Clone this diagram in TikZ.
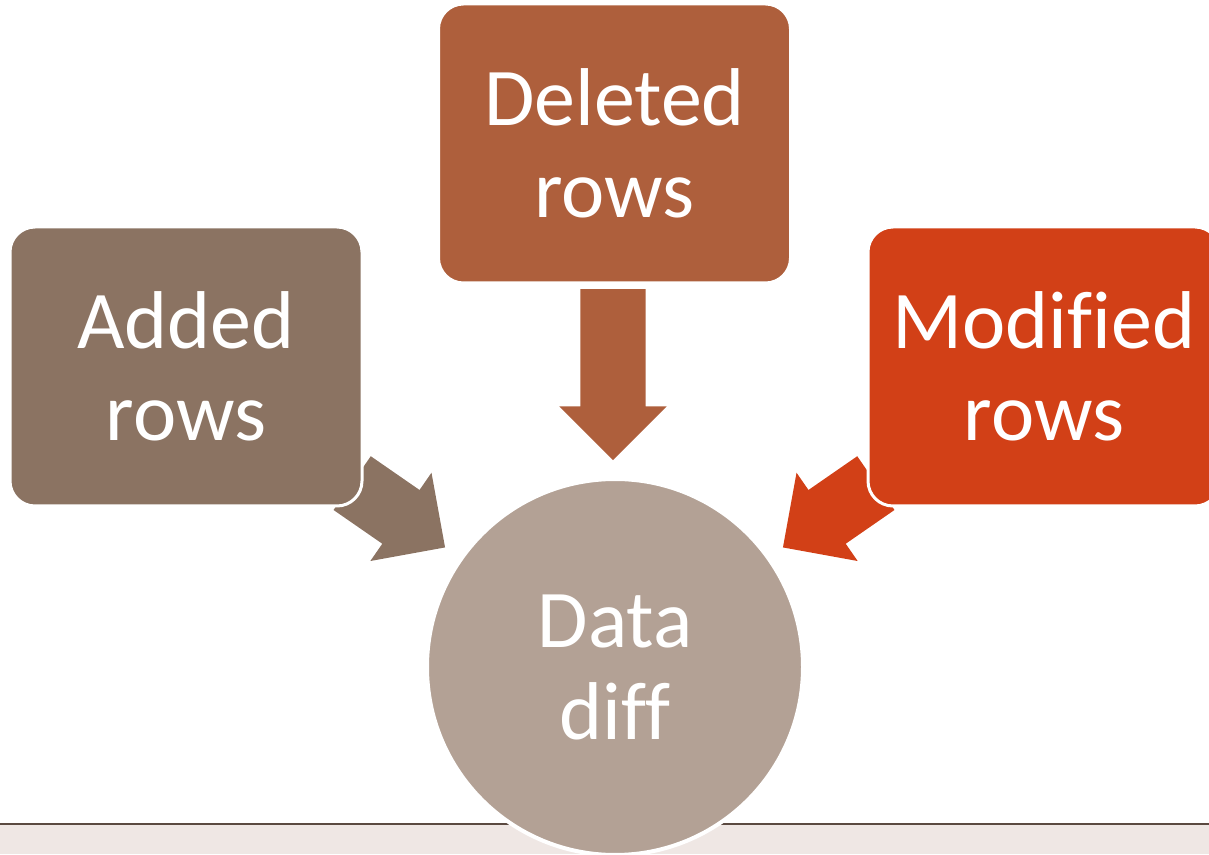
\documentclass[tikz,border=0pt]{standalone}
\usepackage{fontspec}
\setmainfont[Ligatures=NoCommon]{Carlito}
\usetikzlibrary{shapes.arrows}
\definecolor{addedcol}{HTML}{8B7362}
\definecolor{deletedcol}{HTML}{AE5F3C}
\definecolor{modifiedcol}{HTML}{D24017}
\definecolor{diffcol}{HTML}{B3A195}
\definecolor{stripcol}{HTML}{EFE7E4}
\definecolor{linecol}{HTML}{5B4A41}
\newcommand{\bw}{352pt}
\newcommand{\bh}{279pt}

\begin{document}
\begin{tikzpicture}[x=1pt,y=1pt,
    box/.style={draw=white, line width=3pt, rectangle, rounded corners=25pt, minimum width=\bw, minimum height=\bh, inner sep=0pt, text=white, align=center, font=\fontsize{82}{92}\selectfont},
    blockarrow/.style={single arrow, single arrow head extend=21pt, single arrow head indent=0pt, minimum width=107pt, inner xsep=0pt, inner ysep=32.5pt, anchor=tail}]
    \useasboundingbox (0,0) rectangle (1209,854);

    % Bottom strip
    \fill[stripcol] (0,0) rectangle (1209,29);
    \draw[linecol, line width=2pt] (0,30) -- (1209,30);

    % Arrows
    \node[blockarrow, fill=addedcol, minimum height=113pt, rotate=-34.7] (arrow-added) at (352,371) {};
    \node[blockarrow, fill=deletedcol, minimum height=171pt, rotate=-90] (arrow-deleted) at (613,565) {};
    \node[blockarrow, fill=modifiedcol, minimum height=113pt, rotate=-145.3] (arrow-modified) at (876,371) {};

    % Boxes
    \node[box, fill=addedcol] (box-added) at (186,487.5) {Added\\rows};
    \node[box, fill=deletedcol] (box-deleted) at (614.5,710.5) {Deleted\\rows};
    \node[box, fill=modifiedcol] (box-modified) at (1044,487.5) {Modified\\rows};

    % Circle
    \node[circle, draw=white, line width=4pt, fill=diffcol, minimum size=376pt, inner sep=0pt, text=white, align=center, font=\fontsize{82}{92}\selectfont] (diff) at (615,187) {Data\\diff};

\end{tikzpicture}
\end{document}
